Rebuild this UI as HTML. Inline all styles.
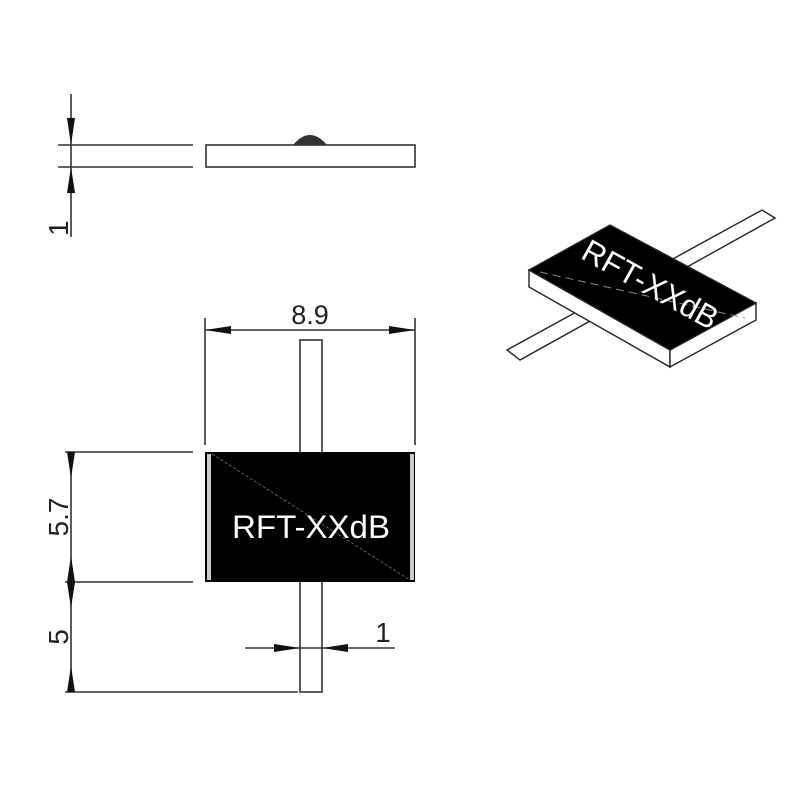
<!DOCTYPE html>
<html><head><meta charset="utf-8"><style>html,body{margin:0;padding:0;background:#fff}svg{display:block}</style></head>
<body>
<svg width="800" height="800" viewBox="0 0 800 800" xmlns="http://www.w3.org/2000/svg" font-family="Liberation Sans, sans-serif">
<g stroke="#333" stroke-width="1.6" fill="none">
<line x1="58" y1="145" x2="193" y2="145"/>
<line x1="58" y1="167" x2="193" y2="167"/>
<line x1="71" y1="94" x2="71" y2="237"/>
<rect x="206" y="145" width="209" height="22" fill="#fff"/>
</g>
<path d="M293 145 Q310 125 327 145 Z" fill="#333"/>
<polygon points="67,118 75,118 71,145" fill="#111"/>
<polygon points="67,193 75,193 71,167" fill="#111"/>
<text font-size="28" fill="#222" transform="translate(68,236) rotate(-90)">1</text>

<g stroke="#333" stroke-width="1.6" fill="none">
<rect x="300" y="340" width="22" height="352" fill="#fff"/>
<line x1="205" y1="318" x2="205" y2="445"/>
<line x1="415" y1="318" x2="415" y2="445"/>
<line x1="205" y1="330" x2="415" y2="330"/>
<line x1="65" y1="452" x2="193" y2="452"/>
<line x1="65" y1="582" x2="193" y2="582"/>
<line x1="65" y1="692" x2="298" y2="692"/>
<line x1="71" y1="452" x2="71" y2="692"/>
<line x1="245" y1="648" x2="395" y2="648"/>
</g>
<rect x="205" y="452" width="210" height="130" fill="#000"/>
<rect x="207" y="454" width="4" height="126" fill="#ccc"/>
<rect x="410" y="454" width="4" height="126" fill="#ccc"/>
<line x1="212" y1="454" x2="410" y2="580" stroke="#777" stroke-width="0.8" stroke-dasharray="3,2"/>
<text x="311" y="538" font-size="32" fill="#fff" text-anchor="middle" textLength="158" lengthAdjust="spacingAndGlyphs">RFT-XXdB</text>
<polygon points="205,330 231,326 231,334" fill="#111"/>
<polygon points="415,330 389,326 389,334" fill="#111"/>
<text x="310" y="324" font-size="27" fill="#222" text-anchor="middle">8.9</text>
<polygon points="67,452 75,452 71,478" fill="#111"/>
<polygon points="67,582 75,582 71,556" fill="#111"/>
<polygon points="67,582 75,582 71,608" fill="#111"/>
<polygon points="67,692 75,692 71,666" fill="#111"/>
<text font-size="28" fill="#222" transform="translate(68,517) rotate(-90)" text-anchor="middle">5.7</text>
<text font-size="28" fill="#222" transform="translate(68,637) rotate(-90)" text-anchor="middle">5</text>
<polygon points="300,648 274,644 274,652" fill="#111"/>
<polygon points="322,648 348,644 348,652" fill="#111"/>
<text x="383" y="642" font-size="28" fill="#222" text-anchor="middle">1</text>

<g stroke="#222" stroke-width="1.4">
<polygon points="507,350 762,210 775,218 520,360" fill="#fff"/>
<polygon points="529,270 670,350 670,367 529,287" fill="#fff"/>
<polygon points="670,350 756,303 756,320 670,367" fill="#fff"/>
<polygon points="529,270 610,225 756,303 670,350" fill="#000"/>
</g>
<line x1="540" y1="272" x2="745" y2="318" stroke="#888" stroke-width="1" stroke-dasharray="8,5"/>
<text font-size="32" fill="#fff" text-anchor="middle" transform="translate(645,294) rotate(29)" textLength="150" lengthAdjust="spacingAndGlyphs">RFT-XXdB</text>
</svg>
</body></html>
